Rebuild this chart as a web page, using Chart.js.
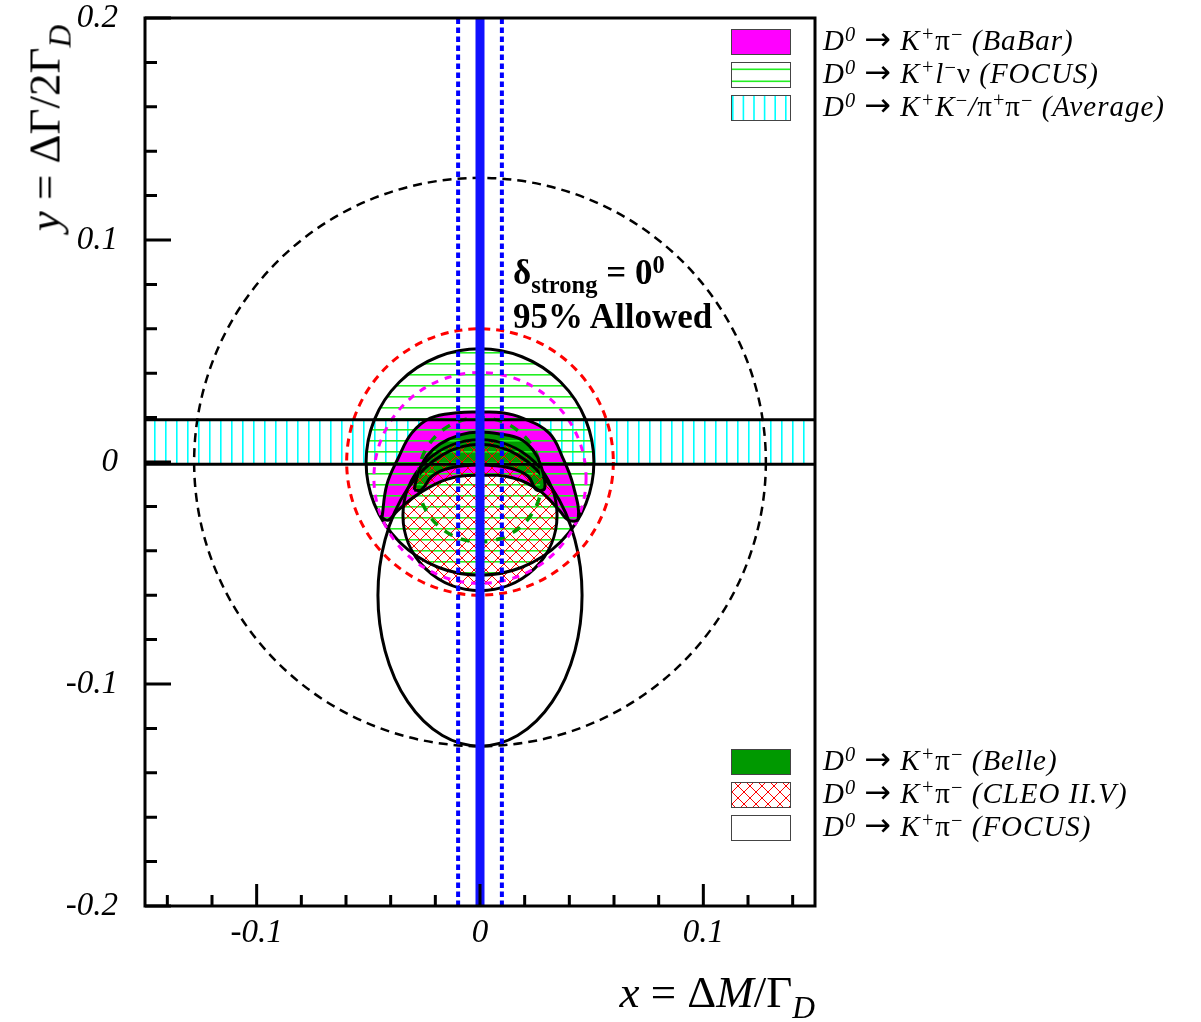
<!DOCTYPE html>
<html>
<head>
<meta charset="utf-8">
<script src="https://cdn.jsdelivr.net/npm/chart.js@4.4.0/dist/chart.umd.min.js"></script>
<style>
  body { margin: 0; background: #fff; }
  #wrap { position: relative; width: 1201px; height: 1022px; font-family: 'Liberation Serif', 'DejaVu Serif', serif; }
  #plot { position: absolute; left: 0; top: 0; }
  .lab { position: absolute; white-space: nowrap; color: #000; }
  .leg { font-size: 29px; font-style: italic; line-height: 33px; letter-spacing: 1px; }
  .up { font-style: normal; }
  .it { font-style: italic; }
  .arr { font-style: normal; font-family: 'DejaVu Sans', sans-serif; font-size: 1.1em; line-height: 0; }
  sup { font-size: 0.7em; vertical-align: 0.45em; line-height: 0; }
  sub { font-size: 0.7em; vertical-align: -0.35em; line-height: 0; }
  .title { font-size: 45px; line-height: 45px; }
  .note { font-size: 35px; font-weight: bold; line-height: 35px; }
</style>
</head>
<body>
<div id="wrap">
  <canvas id="plot" width="1201" height="1022"></canvas>

  <div class="lab leg" style="left:823px; top:24px;">
    D<sup>0</sup> <span class="arr">→</span> K<sup>+</sup><span class="up">π</span><sup class="up">−</sup> (BaBar)<br>
    D<sup>0</sup> <span class="arr">→</span> K<sup>+</sup>l<sup class="up">−</sup><span class="up">ν</span> (FOCUS)<br>
    D<sup>0</sup> <span class="arr">→</span> K<sup>+</sup>K<sup class="up">−</sup>/<span class="up">π</span><sup class="up">+</sup><span class="up">π</span><sup class="up">−</sup> (Average)
  </div>
  <div class="lab leg" style="left:823px; top:744px;">
    D<sup>0</sup> <span class="arr">→</span> K<sup>+</sup><span class="up">π</span><sup class="up">−</sup> (Belle)<br>
    D<sup>0</sup> <span class="arr">→</span> K<sup>+</sup><span class="up">π</span><sup class="up">−</sup> (CLEO II.V)<br>
    D<sup>0</sup> <span class="arr">→</span> K<sup>+</sup><span class="up">π</span><sup class="up">−</sup> (FOCUS)
  </div>

  <div class="lab note" style="left:513px; top:255px;">δ<sub>strong</sub> = 0<sup>0</sup></div>
  <div class="lab note" style="left:513px; top:299px;">95% Allowed</div>

  <div class="lab title" style="right:386px; top:970px;"><span class="it">x</span> = Δ<span class="it">M</span>/Γ<sub class="it">D</sub></div>
  <div class="lab title" style="left:45px; top:128px; transform: translate(-50%, -50%) rotate(-90deg);"><span class="it">y</span> = ΔΓ/2Γ<sub class="it">D</sub></div>
</div>

<script>
// --- axes ---
const xRange = [-0.15, 0.15];
const yRange = [-0.2, 0.2];
const xMajorTicks = [-0.1, 0, 0.1];
const xTickLabels = ['-0.1', '0', '0.1'];
const xMinorTicks = [-0.14, -0.12, -0.08, -0.06, -0.04, -0.02, 0.02, 0.04, 0.06, 0.08, 0.12, 0.14];
const yMajorTicks = [-0.2, -0.1, 0, 0.1, 0.2];
const yTickLabels = ['-0.2', '-0.1', '0', '0.1', '0.2'];
const yMinorTicks = [-0.18, -0.16, -0.14, -0.12, -0.08, -0.06, -0.04, -0.02,
                     0.02, 0.04, 0.06, 0.08, 0.12, 0.14, 0.16, 0.18];

// --- delta_strong = 0 : central x and 95% limits ---
const xCentral = 0;
const xLimits = [-0.0098, 0.0098];

// --- D0 -> K+K-/pi+pi- average band in y ---
const yAverage = [-0.001, 0.019];

// --- elliptical contours [cx, cy, rx, ry] ---
const focusKlnu = [0, 0, 0.051, 0.051];
const cleoKpi = [0, -0.024, 0.0345, 0.034];
const focusKpi = [0, -0.06, 0.0457, 0.068];
const blackDashed = [0, 0, 0.128, 0.128];
const redDashed = [0, 0, 0.0597, 0.06];
const magentaDashed = [0, -0.0072, 0.0475, 0.0475];
const greenDashed = [0, -0.008, 0.0278, 0.028];

// --- BaBar 95% region: outer edge (left to right), then inner edge (right to left) ---
const babarOuter = [[-0.0439, -0.0252], [-0.0417, -0.0102], [-0.0366, 0.0018], [-0.0305, 0.0131],
                    [-0.0223, 0.0198], [-0.010, 0.0222], [0, 0.0225], [0.010, 0.0222], [0.019, 0.0198],
                    [0.031, 0.013], [0.037, 0.002], [0.0417, -0.0104], [0.0440, -0.0255]];
const babarInner = [[0.0395, -0.0262], [0.0357, -0.022], [0.0268, -0.013], [0.0149, -0.0072],
                    [0, -0.006], [-0.0149, -0.0078], [-0.028, -0.0147], [-0.037, -0.022], [-0.0410, -0.0262]];

// --- Belle 95% region ---
const belleOuter = [[-0.0295, -0.0126], [-0.0277, -0.005], [-0.0237, 0.0027], [-0.0179, 0.0081],
                    [-0.0089, 0.0122], [0, 0.0135], [0.0089, 0.0126], [0.0179, 0.0104],
                    [0.0237, 0.0054], [0.0272, -0.0014], [0.029, -0.0117]];
const belleInner = [[0.0254, -0.0126], [0.0214, -0.0063], [0.0134, -0.0027], [0, -0.0014],
                    [-0.0134, -0.0027], [-0.0214, -0.0063], [-0.0263, -0.0126]];

// --- patterns ---
function makePattern(w, h, draw) {
    const c = document.createElement('canvas');
    c.width = w; c.height = h;
    const g = c.getContext('2d');
    draw(g, w, h);
    return g.createPattern(c, 'repeat');
}
const cyanHatch = makePattern(11, 4, (g) => { g.fillStyle = '#00ffff'; g.fillRect(0, 0, 1.6, 4); });
const greenHatch = makePattern(4, 11, (g) => { g.fillStyle = '#22ee22'; g.fillRect(0, 0, 4, 1.6); });
const redHatch = makePattern(12, 12, (g, w) => {
    g.strokeStyle = '#ff0000';
    g.lineWidth = 1;
    g.beginPath();
    for (const k of [-w, 0, w]) {
        g.moveTo(k - w, -w); g.lineTo(k + 2 * w, 2 * w);
        g.moveTo(k + 2 * w, -w); g.lineTo(k - w, 2 * w);
    }
    g.stroke();
});

const toPts = (arr) => arr.map(([x, y]) => ({ x, y }));
const closed = (outer, inner) => toPts([...outer, ...inner, outer[0]]);

// --- helpers that go through the chart scales ---
function ellipsePath(chart, e) {
    const { x, y } = chart.scales;
    const cx = x.getPixelForValue(e[0]);
    const cy = y.getPixelForValue(e[1]);
    const rx = Math.abs(x.getPixelForValue(e[0] + e[2]) - cx);
    const ry = Math.abs(y.getPixelForValue(e[1] + e[3]) - cy);
    chart.ctx.beginPath();
    chart.ctx.ellipse(cx, cy, rx, ry, 0, 0, Math.PI * 2);
}

function strokeEllipse(chart, e, color, width, dash) {
    const ctx = chart.ctx;
    ellipsePath(chart, e);
    ctx.strokeStyle = color;
    ctx.lineWidth = width;
    ctx.setLineDash(dash || []);
    ctx.stroke();
    ctx.setLineDash([]);
}

function fillRegion(chart, label, fill) {
    const idx = chart.data.datasets.findIndex((d) => d.label === label);
    if (idx < 0) return;
    const line = chart.getDatasetMeta(idx).dataset;
    if (!line || !line.path) return;
    line.updateControlPoints(chart.chartArea, 'x');
    const ctx = chart.ctx;
    ctx.beginPath();
    line.path(ctx);
    ctx.closePath();
    ctx.fillStyle = fill;
    ctx.fill();
}

const contourPlugin = {
    id: 'contours',
    beforeDatasetsDraw(chart) {
        const ctx = chart.ctx;
        const a = chart.chartArea;
        ctx.save();
        ctx.beginPath();
        ctx.rect(a.left, a.top, a.right - a.left, a.bottom - a.top);
        ctx.clip();

        fillRegion(chart, 'BaBar', '#ff00ff');
        fillRegion(chart, 'Belle', '#009900');

        ellipsePath(chart, focusKlnu);
        ctx.fillStyle = greenHatch;
        ctx.fill();
        ellipsePath(chart, cleoKpi);
        ctx.fillStyle = redHatch;
        ctx.fill();

        strokeEllipse(chart, focusKlnu, '#000', 3);
        strokeEllipse(chart, cleoKpi, '#000', 3);
        strokeEllipse(chart, focusKpi, '#000', 3);

        strokeEllipse(chart, blackDashed, '#000', 2.5, [9, 6]);
        strokeEllipse(chart, redDashed, '#ff0000', 3, [8, 6]);
        strokeEllipse(chart, magentaDashed, '#ff00ff', 3, [7, 7]);
        strokeEllipse(chart, greenDashed, '#009900', 3.5, [9, 9]);
        ctx.restore();
    },
    afterDraw(chart) {
        const ctx = chart.ctx;
        const a = chart.chartArea;
        const { x, y } = chart.scales;
        ctx.save();
        ctx.strokeStyle = '#000';
        ctx.lineWidth = 3;
        ctx.strokeRect(a.left, a.top, a.right - a.left, a.bottom - a.top);

        // ticks point into the frame
        ctx.beginPath();
        yMinorTicks.forEach((v) => { const p = y.getPixelForValue(v); ctx.moveTo(a.left, p); ctx.lineTo(a.left + 12, p); });
        yMajorTicks.forEach((v) => { const p = y.getPixelForValue(v); ctx.moveTo(a.left, p); ctx.lineTo(a.left + 26, p); });
        xMinorTicks.forEach((v) => { const p = x.getPixelForValue(v); ctx.moveTo(p, a.bottom); ctx.lineTo(p, a.bottom - 11); });
        xMajorTicks.forEach((v) => { const p = x.getPixelForValue(v); ctx.moveTo(p, a.bottom); ctx.lineTo(p, a.bottom - 22); });
        ctx.stroke();

        // legend boxes
        const box = (bx, by, fill) => {
            ctx.fillStyle = fill;
            ctx.fillRect(bx, by, 59, 25);
        };
        const border = (bx, by) => {
            ctx.strokeStyle = '#444';
            ctx.lineWidth = 1;
            ctx.strokeRect(bx + 0.5, by + 0.5, 59, 25);
        };
        box(731, 29, '#ff00ff'); border(731, 29);
        box(731, 62, '#ffffff');
        ctx.fillStyle = '#22ee22';
        ctx.fillRect(731, 68.5, 59, 1.6);
        ctx.fillRect(731, 80.5, 59, 1.6);
        border(731, 62);
        box(731, 95, '#ffffff');
        ctx.fillStyle = '#00ffff';
        for (let i = 0; i < 6; i++) ctx.fillRect(732 + i * 10.6, 95, 1.6, 25);
        border(731, 95);

        box(731, 749, '#009900'); border(731, 749);
        box(731, 782, '#ffffff'); box(731, 782, redHatch); border(731, 782);
        box(731, 815, '#ffffff'); border(731, 815);
        ctx.restore();
    }
};

const tickFont = { family: "'Liberation Serif', serif", style: 'italic', size: 33 };

new Chart(document.getElementById('plot'), {
    type: 'scatter',
    data: {
        datasets: [
            {
                label: 'x central',
                data: toPts([[xCentral, yRange[0]], [xCentral, yRange[1]]]),
                showLine: true, borderColor: '#1010ff', borderWidth: 9, pointRadius: 0, fill: false
            },
            {
                label: 'x low',
                data: toPts([[xLimits[0], yRange[0]], [xLimits[0], yRange[1]]]),
                showLine: true, borderColor: '#0000ff', borderWidth: 4, borderDash: [5.5, 3.5], pointRadius: 0, fill: false
            },
            {
                label: 'x high',
                data: toPts([[xLimits[1], yRange[0]], [xLimits[1], yRange[1]]]),
                showLine: true, borderColor: '#0000ff', borderWidth: 4, borderDash: [5.5, 3.5], pointRadius: 0, fill: false
            },
            {
                label: 'Average top',
                data: toPts([[xRange[0], yAverage[1]], [xRange[1], yAverage[1]]]),
                showLine: true, borderColor: '#000', borderWidth: 3, pointRadius: 0,
                fill: '+1', backgroundColor: cyanHatch
            },
            {
                label: 'Average bottom',
                data: toPts([[xRange[0], yAverage[0]], [xRange[1], yAverage[0]]]),
                showLine: true, borderColor: '#000', borderWidth: 3, pointRadius: 0, fill: false
            },
            {
                label: 'BaBar',
                data: closed(babarOuter, babarInner),
                showLine: true, borderColor: '#000', borderWidth: 3, pointRadius: 0, tension: 0.4, fill: false
            },
            {
                label: 'Belle',
                data: closed(belleOuter, belleInner),
                showLine: true, borderColor: '#000', borderWidth: 3, pointRadius: 0, tension: 0.4, fill: false
            }
        ]
    },
    options: {
        responsive: false,
        animation: false,
        devicePixelRatio: 1,
        layout: { padding: { top: 0, right: 386, left: 0, bottom: 0 } },
        plugins: {
            legend: { display: false },
            tooltip: { enabled: false },
            filler: { drawTime: 'beforeDatasetsDraw' }
        },
        scales: {
            x: {
                type: 'linear', min: xRange[0], max: xRange[1],
                afterBuildTicks: (s) => { s.ticks = xMajorTicks.map((v) => ({ value: v })); },
                afterFit: (s) => { s.height = 116; s.paddingLeft = 0; s.paddingRight = 0; },
                ticks: { callback: (v, i) => xTickLabels[i], font: tickFont, color: '#000', padding: 8, maxRotation: 0, autoSkip: false },
                grid: { display: false, drawTicks: false },
                border: { display: false }
            },
            y: {
                type: 'linear', min: yRange[0], max: yRange[1],
                afterBuildTicks: (s) => { s.ticks = yMajorTicks.map((v) => ({ value: v })); },
                afterFit: (s) => { s.width = 145; s.paddingTop = 18; s.paddingBottom = 0; },
                ticks: { callback: (v, i) => yTickLabels[i], font: tickFont, color: '#000', padding: 27, autoSkip: false },
                grid: { display: false, drawTicks: false },
                border: { display: false }
            }
        }
    },
    plugins: [contourPlugin]
});
</script>
</body>
</html>
